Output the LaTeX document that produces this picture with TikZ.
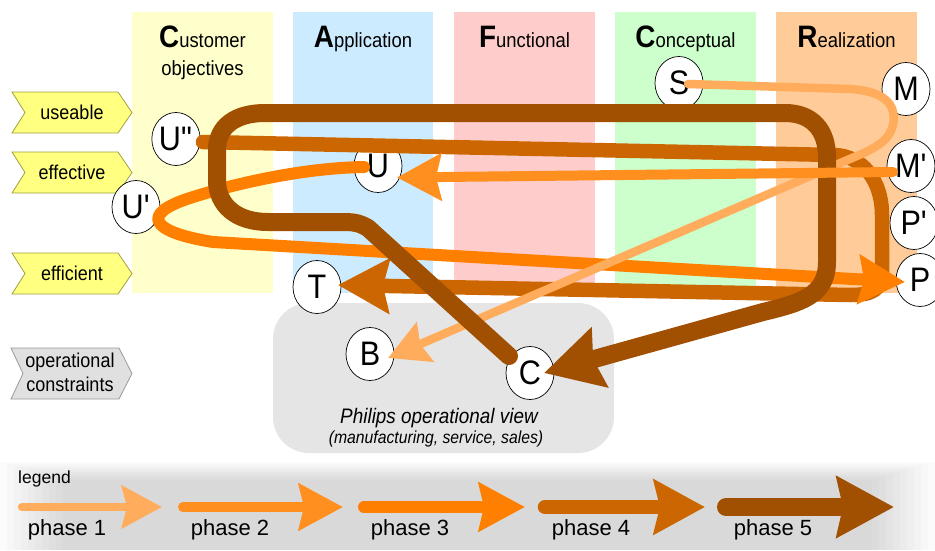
\documentclass[tikz,border=0pt]{standalone}
\usepackage{fontspec}
\setmainfont{Liberation Sans}
\newfontfamily\nf[FakeStretch=0.9]{Liberation Sans}
\usetikzlibrary{arrows.meta,calc,shapes.geometric}
\definecolor{colY}{HTML}{FFFFCC}
\definecolor{colA}{HTML}{CCEBFF}
\definecolor{colF}{HTML}{FFCCCC}
\definecolor{colC}{HTML}{CCFFCC}
\definecolor{colR}{HTML}{FFCC99}
\definecolor{boxG}{HTML}{E5E5E5}
\definecolor{chevY}{HTML}{FFFF80}
\definecolor{chevD}{HTML}{A0A040}
\definecolor{chevG}{HTML}{E0E0E0}
\definecolor{chevGD}{HTML}{999999}
\definecolor{phA}{HTML}{FFAD5C}
\definecolor{phB}{HTML}{FF8F1F}
\definecolor{phC}{HTML}{FF8000}
\definecolor{phD}{HTML}{CC6600}
\definecolor{phE}{HTML}{A05000}
\newcommand\BigInit[1]{{\fontsize{31}{31}\selectfont\bfseries #1}}
\begin{document}
\begin{tikzpicture}[x=1pt,y=-1pt,
  circ/.style={ellipse,draw=black,line width=0.7pt,fill=white,minimum width=48pt,minimum height=53pt,inner sep=0pt,font=\nf\fontsize{34}{34}\selectfont},
  chev/.style={fill=chevY,draw=chevD,line width=0.8pt},
  chevgray/.style={fill=chevG,draw=chevGD,line width=0.8pt},
  chevtxt/.style={anchor=base,inner sep=0pt,font=\nf\fontsize{20}{22}\selectfont},
  ttl/.style={anchor=base,inner sep=0pt,font=\nf\fontsize{20.5}{22}\selectfont},
  legtxt/.style={anchor=base,inner sep=0pt,font=\fontsize{22}{24}\selectfont},
  phbase/.style={line cap=round,line join=round},
  ph1/.style={phbase,draw=phA,line width=8.5pt,-{Stealth[length=40pt,width=42pt,inset=5pt]}},
  ph2/.style={phbase,draw=phB,line width=10pt,-{Stealth[length=44pt,width=46pt,inset=5pt]}},
  ph3/.style={phbase,draw=phC,line width=12pt,-{Stealth[length=46pt,width=48pt,inset=5pt]}},
  ph4/.style={phbase,draw=phD,line width=14.5pt,-{Stealth[length=51pt,width=54pt,inset=6pt]}},
  ph5/.style={phbase,draw=phE,line width=18pt,-{Stealth[length=57pt,width=60pt,inset=6pt]}}
]
\useasboundingbox (0,0) rectangle (935,550);
% columns
\fill[colY] (132,12) rectangle (273,293);
\fill[colA] (293,12) rectangle (433,293);
\fill[colF] (454,12) rectangle (595,293);
\fill[colC] (615,12) rectangle (756,293);
\fill[colR] (776,12) rectangle (917,293);
% column titles
\node[ttl] (tCu) at (202.5,47) {\BigInit{C}ustomer};
\node[ttl] (tOb) at (202.5,75) {objectives};
\node[ttl] (tAp) at (363,47) {\BigInit{A}pplication};
\node[ttl] (tFu) at (524.5,47) {\BigInit{F}unctional};
\node[ttl] (tCo) at (685.5,47) {\BigInit{C}onceptual};
\node[ttl] (tRe) at (846.5,47) {\BigInit{R}ealization};
% Philips operational view box
\fill[boxG,rounded corners=36pt] (273,303) rectangle (614,453);
\node[anchor=base,inner sep=0pt,font=\nf\itshape\fontsize{21}{22}\selectfont] (pv1) at (439,423) {Philips operational view};
\node[anchor=base,inner sep=0pt,font=\nf\itshape\fontsize{17.5}{18}\selectfont] (pv2) at (436,443) {(manufacturing, service, sales)};
% chevrons
\draw[chev] (12,92) -- (118,92) -- (132,112.5) -- (118,133) -- (12,133) -- (25,112.5) -- cycle;
\node[chevtxt] (cu) at (72,119) {useable};
\draw[chev] (12,152) -- (118,152) -- (132,172.5) -- (118,193) -- (12,193) -- (25,172.5) -- cycle;
\node[chevtxt] (ce) at (72,179) {effective};
\draw[chev] (12,253) -- (118,253) -- (132,273.5) -- (118,294) -- (12,294) -- (25,273.5) -- cycle;
\node[chevtxt] (cf) at (72,280) {efficient};
\draw[chevgray] (11,348) -- (119,348) -- (132,373.5) -- (119,399) -- (11,399) -- (23,373.5) -- cycle;
\node[chevtxt] (co1) at (70,367) {operational};
\node[chevtxt] (co2) at (70,391) {constraints};
% legend band
\foreach \i in {0,...,9} \fill[black,fill opacity=0.014] (\i*7,462+\i*2) rectangle (935-\i*7,550);
\node[anchor=base west,inner sep=0pt,font=\fontsize{17.5}{18}\selectfont] (lg) at (18,483) {legend};
% circles
\node[circ] (Upp) at (176,139) {U\textquotedbl};
\node[circ] (U) at (378,166) {U};
\node[circ] (Up) at (136,207) {U\textquotesingle};
\node[circ] (T) at (317,287) {T};
\node[circ] (B) at (370,354) {B};
\node[circ] (C) at (530,373) {C};
\node[circ] (S) at (679,83) {S};
\node[circ] (M) at (906,89) {M};
\node[circ] (Mp) at (911,166) {M\textquotesingle};
\node[circ] (Pp) at (914,223) {P\textquotesingle};
\node[circ] (P) at (920,280) {P};
% phase 4
\draw[ph4] ($(Upp.center)+(27,3)$) -- (835,155) .. controls (862,156) and (882,180) .. (882,215) -- (882,272) .. controls (882,290) and (872,295) .. (850,295) -- ($(T.center)+(21,-2)$);
% phase 3
\draw[ph3] ($(U.center)+(-14,1)$) .. controls (300,168) and (230,185) .. (190,198) .. controls (140,214) and (150,232) .. (213,242) -- ($(P.center)+(-15,2)$);
% phase 1
\draw[ph1] ($(S.center)+(9,1)$) -- (850,89) .. controls (885,91) and (897,105) .. (893,125) .. controls (890,138) and (880,145) .. (866,152) -- ($(B.center)+(18,4)$);
% phase 5
\draw[ph5] ($(C.center)+(-21,-17)$) -- (368,228) .. controls (358,222) and (352,222) .. (340,222) -- (268,222) .. controls (236,222) and (217,205) .. (217,180) -- (217,150) .. controls (217,126) and (236,113) .. (265,113) -- (785,113) .. controls (812,113) and (827,130) .. (827,157) -- (827,262) .. controls (827,296) and (800,303) .. (763,312) -- ($(C.center)+(14,0)$);
% phase 2
\draw[ph2] ($(Mp.center)+(-18,6)$) -- ($(U.center)+(19,11.5)$);
% legend arrows
\coordinate (l1a) at (22,507); \coordinate (l1b) at (162,507);
\coordinate (l2a) at (183,507); \coordinate (l2b) at (343,507);
\coordinate (l3a) at (364,507); \coordinate (l3b) at (525,507);
\coordinate (l4a) at (545,507); \coordinate (l4b) at (705,507);
\coordinate (l5a) at (726,507); \coordinate (l5b) at (894,507);
\draw[ph1] (l1a) -- (l1b);
\draw[ph2] (l2a) -- (l2b);
\draw[ph3] (l3a) -- (l3b);
\draw[ph4] (l4a) -- (l4b);
\draw[ph5] (l5a) -- (l5b);
\node[legtxt] (p1) at (67,535) {phase 1};
\node[legtxt] (p2) at (230,535) {phase 2};
\node[legtxt] (p3) at (410,535) {phase 3};
\node[legtxt] (p4) at (591,535) {phase 4};
\node[legtxt] (p5) at (773,535) {phase 5};
\end{tikzpicture}
\end{document}
